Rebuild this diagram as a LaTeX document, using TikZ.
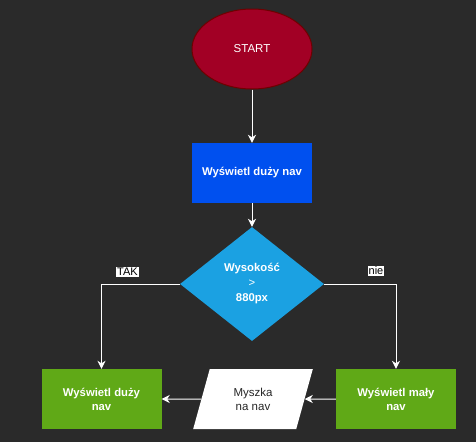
\documentclass[tikz,border=0pt]{standalone}
\usepackage{fontspec}
\setmainfont{Liberation Sans}
\usetikzlibrary{shapes.geometric,arrows.meta}
\definecolor{bg}{HTML}{2A2A2A}
\definecolor{startfill}{HTML}{A20025}
\definecolor{startline}{HTML}{6F0000}
\definecolor{bluefill}{HTML}{0050EF}
\definecolor{diafill}{HTML}{1BA1E2}
\definecolor{greenfill}{HTML}{60A917}
\tikzset{
  every node/.style={font=\fontsize{11.5pt}{14pt}\selectfont},
  conn/.style={draw=white, line width=1pt, -{Stealth[length=8pt,width=8pt,inset=2.5pt]}},
  procbox/.style={rectangle, minimum width=120pt, minimum height=60pt, inner sep=0pt, text=white, font=\fontsize{11.3pt}{14pt}\selectfont\bfseries, align=center},
  lbl/.style={fill=white, text=black, inner sep=1pt, font=\fontsize{11pt}{12pt}\selectfont}
}
\begin{document}
\begin{tikzpicture}[x=1pt,y=-1pt]
\fill[bg] (0,0) rectangle (476,442);
\useasboundingbox (0,0) rectangle (476,442);
\node[ellipse, minimum width=120pt, minimum height=80pt, fill=startfill, draw=startline, line width=1pt, text=white, inner sep=0pt] (start) at (252,49) {START};
\node[procbox, fill=bluefill] (big) at (252,173) {Wyświetl duży nav};
\node[diamond, minimum width=144pt, minimum height=114pt, inner sep=0pt, fill=diafill, text=white, align=center, font=\fontsize{11.3pt}{16pt}\selectfont\bfseries] (dec) at (252,284) {Wysokość\\[-1pt]{\mdseries>}\\[-1pt]880px};
\node[procbox, fill=greenfill] (bigb) at (101.5,399) {Wyświetl duży\\nav};
\node[procbox, fill=greenfill] (small) at (396,399) {Wyświetl mały\\nav};
\node[trapezium, trapezium left angle=71.6, trapezium right angle=108.4, trapezium stretches=true, minimum width=120pt, minimum height=60pt, inner sep=0pt, fill=white, text=black!85, align=center] (mouse) at (253,399) {Myszka\\na nav};
\coordinate (tl) at (101.5,284);
\coordinate (tr) at (396,284);
\draw[conn] (start) -- (big);
\draw[conn] (big) -- (dec);
\draw[conn] (dec.west) -- (tl) -- (bigb.north);
\draw[conn] (dec.east) -- (tr) -- (small.north);
\draw[conn] (small.west) -- (mouse.east);
\draw[conn] (mouse.west) -- (bigb.east);
\node[lbl] (tak) at (127.5,272) {TAK};
\node[lbl] (nie) at (376,271) {nie};
\end{tikzpicture}
\end{document}
